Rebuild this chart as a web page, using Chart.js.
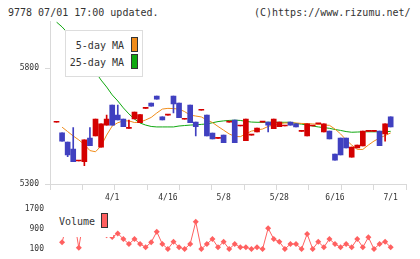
<!DOCTYPE html>
<html>
<head>
<meta charset="utf-8">
<script src="https://cdn.jsdelivr.net/npm/chart.js"></script>
<style>
body { margin: 0; background: #fff; }
#wrap { position: relative; width: 420px; height: 259px; overflow: hidden; font-family: "DejaVu Sans Mono", monospace; color: #333; }
#wrap canvas { position: absolute; left: 0; }
.txt { position: absolute; font-size: 10px; line-height: 12px; white-space: nowrap; }
.sw { position: absolute; box-sizing: border-box; border: 1px solid #333; width: 7px; height: 15px; }
</style>
</head>
<body>
<div id="wrap">
  <div class="txt" style="left:8px;top:7px">9778 07/01 17:00 updated.</div>
  <div class="txt" style="left:254px;top:7px">(C)https://www.rizumu.net/</div>
  <canvas id="grafico" width="420" height="205" style="top:0"></canvas>
  <canvas id="volumen" width="420" height="64" style="top:195px"></canvas>

  <div style="position:absolute;left:65px;top:30px;width:76px;height:45px;border:1px solid #ddd;background:#fff"></div>
  <div class="txt" style="left:66px;width:58px;text-align:right;top:40px">5-day MA</div>
  <div class="txt" style="left:66px;width:58px;text-align:right;top:57px">25-day MA</div>
  <div class="sw" style="left:131px;top:37px;background:#f08c1a"></div>
  <div class="sw" style="left:131px;top:54px;background:#10a810"></div>

  <div style="position:absolute;left:55px;top:205px;width:58px;height:32px;background:#fff"></div>
  <div class="txt" style="left:59px;top:216px">Volume</div>
  <div class="sw" style="left:101px;top:213px;background:#ff6060"></div>
</div>

<script>
// ticks del eje x (indice de la vela -> fecha)
const tickAt = [10, 20, 30, 40, 50, 60]
const tickLabels = ['4/1', '4/16', '5/8', '5/28', '6/16', '7/1']
const priceTicks = [5300, 5800]
const volTicks = [100, 900, 1700]

const opens  = [5566,5521,5481,5451,5399,5396,5498,5507,5459,5554,5640,5597,5580,5540,5580,5564,5626,5649,5679,5589,5597,5679,5649,5579,5640,5567,5618,5597,5520,5497,5511,5567,5576,5550,5487,5511,5525,5567,5567,5538,5547,5550,5567,5559,5527,5507,5550,5559,5525,5528,5429,5498,5498,5416,5455,5464,5527,5527,5528,5516,5589]
const highs  = [5566,5521,5481,5543,5399,5490,5543,5580,5559,5597,5640,5640,5580,5576,5610,5599,5626,5649,5679,5589,5597,5679,5649,5579,5640,5567,5618,5597,5520,5497,5511,5567,5576,5550,5580,5511,5541,5567,5567,5580,5567,5550,5567,5559,5527,5559,5550,5559,5559,5528,5429,5498,5498,5459,5468,5528,5527,5527,5528,5559,5589]
const lows   = [5566,5485,5418,5396,5399,5379,5465,5507,5459,5554,5554,5576,5547,5540,5580,5564,5626,5636,5666,5576,5597,5606,5586,5579,5564,5507,5618,5507,5494,5497,5478,5567,5478,5550,5487,5511,5525,5567,5525,5538,5547,5550,5554,5546,5527,5507,5550,5559,5525,5494,5403,5425,5455,5416,5455,5464,5527,5527,5465,5485,5546]
const closes = [5566,5485,5425,5396,5399,5490,5465,5580,5559,5580,5554,5576,5547,5540,5610,5599,5626,5636,5666,5576,5597,5645,5586,5579,5564,5547,5618,5507,5494,5497,5478,5567,5478,5550,5580,5511,5541,5567,5554,5580,5567,5550,5554,5546,5527,5559,5550,5559,5559,5494,5403,5425,5455,5459,5468,5528,5527,5527,5465,5559,5546]

const ma5  = [null,5545,5526,5507,5490,5470,5444,5439,5464,5511,5550,5564,5572,5572,5565,5567,5576,5587,5606,5623,5626,5625,5623,5612,5597,5593,5589,5576,5565,5548,5532,5516,5505,5504,5516,5528,5533,5537,5548,5554,5560,5563,5563,5563,5561,5560,5559,5557,5554,5553,5537,5516,5490,5468,5449,5449,5468,5485,5498,5509,5520]
const ma25 = [5998,5977,5951,5916,5884,5851,5817,5783,5748,5718,5684,5658,5628,5602,5580,5563,5554,5548,5546,5546,5546,5546,5550,5552,5554,5555,5557,5559,5564,5569,5572,5574,5575,5574,5570,5567,5566,5566,5566,5566,5566,5566,5566,5561,5558,5554,5550,5546,5543,5540,5535,5531,5526,5523,5524,5525,5525,5525,5525,5525,5527]

const volumes = [null,370,1200,1500,150,1500,1000,1300,700,650,580,720,500,300,500,300,170,370,790,300,100,390,170,100,300,1190,100,300,500,170,390,100,300,170,170,100,170,100,930,500,390,100,300,300,100,700,100,390,170,500,300,170,300,170,500,170,570,100,300,390,170]

const rojo = '#d40000'
const azul = '#4040c0'
const gris = '#d9d9d9'
const xMin = -1.17
const xMax = 62.75
const fuente = { family: 'DejaVu Sans Mono', size: 8 }

const colorVela = (ctx) => closes[ctx.dataIndex] >= opens[ctx.dataIndex] ? rojo : azul

const mecha = opens.map((o, i) => ({ x: i, y: [lows[i], highs[i]] }))
const cuerpo = opens.map((o, i) => ({ x: i, y: [o, closes[i]] }))
const lineaMa5 = ma5.map((v, i) => ({ x: i, y: v }))
const lineaMa25 = ma25.map((v, i) => ({ x: i, y: v }))
const puntosVol = volumes.map((v, i) => ({ x: i, y: v }))

Chart.defaults.animation = false

const grafico = document.querySelector('#grafico')
new Chart(grafico, {
    type: 'bar',
    data: {
        datasets: [
            { type: 'bar', data: mecha, xAxisID: 'x', backgroundColor: colorVela, barThickness: 1, grouped: false, order: 1 },
            { type: 'bar', data: cuerpo, xAxisID: 'x', backgroundColor: colorVela, barThickness: 5, minBarLength: 1, grouped: false, order: 0 },
            { type: 'line', data: lineaMa5, xAxisID: 'x', borderColor: '#f08c1a', borderWidth: 1, pointRadius: 0, order: 2 },
            { type: 'line', data: lineaMa25, xAxisID: 'x', borderColor: '#10a810', borderWidth: 1, pointRadius: 0, order: 3 }
        ]
    },
    options: {
        responsive: false,
        devicePixelRatio: 1,
        events: [],
        layout: { padding: { top: 21.6, right: 14, left: 0, bottom: 0 } },
        plugins: { legend: { display: false }, tooltip: { enabled: false } },
        scales: {
            xg: {
                type: 'linear', axis: 'x', position: 'bottom', weight: 0, offset: false,
                min: 0, max: 11,
                ticks: { stepSize: 1, display: false },
                grid: { drawOnChartArea: false, tickLength: 6, color: gris, offset: false },
                border: { color: gris },
                afterFit: (s) => { s.height = 0 }
            },
            x: {
                type: 'linear', position: 'bottom', weight: 1, bounds: 'data', offset: false,
                min: xMin, max: xMax,
                grid: { display: false, drawTicks: false, offset: false },
                border: { display: false },
                ticks: { font: fuente, color: '#333', padding: 9, maxRotation: 0,
                    callback: (v) => tickLabels[tickAt.indexOf(v)] },
                afterBuildTicks: (s) => { s.ticks = tickAt.map(v => ({ value: v })) },
                afterFit: (s) => { s.height = 21 }
            },
            y: {
                min: 5300, max: 6000,
                ticks: { font: fuente, color: '#333', padding: 6, callback: (v) => String(v) },
                grid: { drawOnChartArea: false, tickLength: 5, color: gris },
                border: { color: gris },
                afterBuildTicks: (s) => { s.ticks = priceTicks.map(v => ({ value: v })) },
                afterFit: (s) => { s.width = 50 }
            }
        }
    }
})

const volumen = document.querySelector('#volumen')
new Chart(volumen, {
    type: 'line',
    data: {
        datasets: [{
            data: puntosVol,
            borderColor: '#ff6060',
            backgroundColor: '#ff6060',
            borderWidth: 1,
            pointStyle: 'rectRot',
            pointRadius: 3,
            pointBorderWidth: 0,
            clip: false
        }]
    },
    options: {
        responsive: false,
        devicePixelRatio: 1,
        events: [],
        layout: { autoPadding: false, padding: { top: 11.5, right: 14, left: 0, bottom: 7.5 } },
        plugins: { legend: { display: false }, tooltip: { enabled: false } },
        scales: {
            x: { type: 'linear', min: xMin, max: xMax, display: false },
            y: {
                min: 0, max: 1800,
                // padding chico para que la etiqueta no empuje el area; el tickLength invisible la deja en x=44
                ticks: { font: fuente, color: '#333', padding: 2.7, callback: (v) => String(v) },
                grid: { display: false, drawTicks: true, tickLength: 3.3 },
                border: { display: false },
                afterBuildTicks: (s) => { s.ticks = volTicks.map(v => ({ value: v })) },
                afterFit: (s) => { s.width = 50 }
            }
        }
    }
})
</script>
</body>
</html>
